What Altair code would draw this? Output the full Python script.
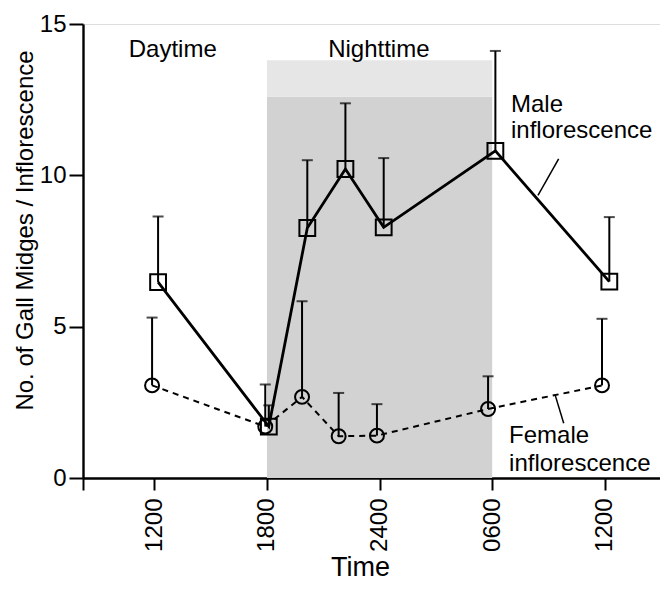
import altair as alt
import pandas as pd

# ---- data ----
male_hours = [12.2, 18.1, 20.15, 22.18, 24.22, 30.17, 36.24]
male_mean = [6.47, 1.70, 8.26, 10.21, 8.28, 10.81, 6.49]
male_upper = [8.64, 2.40, 10.50, 12.38, 10.57, 14.11, 8.62]

female_hours = [11.88, 17.91, 19.87, 21.82, 23.86, 29.78, 35.85]
female_mean = [3.06, 1.70, 2.68, 1.38, 1.40, 2.28, 3.06]
female_upper = [5.30, 3.09, 5.84, 2.81, 2.44, 3.36, 5.26]

tick_hours = [12, 18, 24, 30, 36]
tick_labels = ["1200", "1800", "2400", "0600", "1200"]

night_start, night_end = 18, 30

ann_text = ["Daytime", "Nighttime", "Male", "inflorescence", "Female", "inflorescence"]
ann_x = [12.98, 23.96, 31.0, 31.0, 30.9, 30.9]
ann_y = [13.92, 13.92, 12.10, 11.24, 1.16, 0.24]
ann_align = ["center", "center", "left", "left", "left", "left"]

leader_x = [33.54, 33.36]
leader_x2 = [32.44, 33.81]
leader_y = [10.54, 2.73]
leader_y2 = [9.34, 1.81]

# ---- tables ----
df = pd.DataFrame({
    "series": ["Male"] * len(male_hours) + ["Female"] * len(female_hours),
    "hour": male_hours + female_hours,
    "mean": male_mean + female_mean,
    "upper": male_upper + female_upper,
})
male_df = df[df["series"] == "Male"]
female_df = df[df["series"] == "Female"]

night_df = pd.DataFrame({"x": [night_start, night_start], "x2": [night_end, night_end],
                         "y": [0, 12.6], "y2": [12.6, 13.8],
                         "c": ["#d2d2d2", "#e6e6e6"]})
ann_df = pd.DataFrame({"text": ann_text, "x": ann_x, "y": ann_y, "al": ann_align})
leader_df = pd.DataFrame({"x": leader_x, "x2": leader_x2, "y": leader_y, "y2": leader_y2})

XMIN, XMAX = 8.2, 38.94
xscale = alt.Scale(domain=[XMIN, XMAX], nice=False, zero=False)
yscale = alt.Scale(domain=[0, 15], nice=False)

label_expr = " : ".join(
    f"datum.value == {h} ? '{l}'" for h, l in zip(tick_hours, tick_labels)
) + " : ''"

x_axis = alt.Axis(
    values=[XMIN] + tick_hours, labelExpr=label_expr, title="Time",
    labelAngle=-90, labelFontSize=24, titleFontSize=27, titleFontWeight="normal",
    tickSize=12, tickWidth=2, domainWidth=2.4, labelPadding=8, titlePadding=3,
    titleX=277, grid=False, labelColor="black", titleColor="black",
    domainColor="black", tickColor="black", labelFont="Liberation Sans",
    titleFont="Liberation Sans",
)
y_axis = alt.Axis(
    values=[0, 5, 10, 15], title="No. of Gall Midges / Inflorescence",
    labelFontSize=24, titleFontSize=24, titleFontWeight="normal",
    tickSize=14, tickWidth=2, domainWidth=2.4, labelPadding=3, titlePadding=2,
    titleY=206, grid=False, labelColor="black", titleColor="black",
    domainColor="black", tickColor="black", labelFont="Liberation Sans",
    titleFont="Liberation Sans",
)

X = alt.X("hour:Q", scale=xscale, axis=x_axis)
Y = alt.Y("mean:Q", scale=yscale, axis=y_axis)

night = alt.Chart(night_df).mark_rect().encode(
    x=alt.X("x:Q", scale=xscale, axis=x_axis), x2="x2:Q",
    y=alt.Y("y:Q", scale=yscale, axis=y_axis), y2="y2:Q",
    color=alt.Color("c:N", scale=None),
)

def series_layers(d, dash, shape, size, lw):
    bars = alt.Chart(d).mark_rule(color="black", strokeWidth=2).encode(
        x=X, y=Y, y2="upper:Q")
    caps = alt.Chart(d).mark_tick(color="black", orient="horizontal", size=11,
                                  thickness=2).encode(
        x=X, y=alt.Y("upper:Q", scale=yscale, axis=y_axis))
    line_kw = dict(color="black", strokeWidth=lw)
    if dash:
        line_kw["strokeDash"] = dash
    line = alt.Chart(d).mark_line(**line_kw).encode(x=X, y=Y)
    pts = alt.Chart(d).mark_point(shape=shape, size=size, filled=False,
                                  color="black", strokeWidth=2, opacity=1).encode(x=X, y=Y)
    return [bars, caps, line, pts]

layers = [night]
layers += series_layers(female_df, [6, 5], "circle", 195, 2)
layers += series_layers(male_df, None, "square", 250, 2.8)

leaders = alt.Chart(leader_df).mark_rule(color="black", strokeWidth=1.5).encode(
    x=alt.X("x:Q", scale=xscale, axis=x_axis), x2="x2:Q",
    y=alt.Y("y:Q", scale=yscale, axis=y_axis), y2="y2:Q")

texts = []
for al in ["center", "left"]:
    texts.append(alt.Chart(ann_df[ann_df["al"] == al]).mark_text(
        align=al, baseline="alphabetic", fontSize=24, font="Liberation Sans",
        color="black").encode(
        x=alt.X("x:Q", scale=xscale, axis=x_axis),
        y=alt.Y("y:Q", scale=yscale, axis=y_axis),
        text="text:N"))

chart = alt.layer(*layers, leaders, *texts).properties(
    width=577, height=454,
    autosize=alt.AutoSizeParams(type="none"),
    padding={"left": 75, "top": 16, "right": 0, "bottom": 106},
).configure_view(stroke=None).configure(background="white")

chart.save("out.html", embed_options={"renderer": "svg", "actions": False})
